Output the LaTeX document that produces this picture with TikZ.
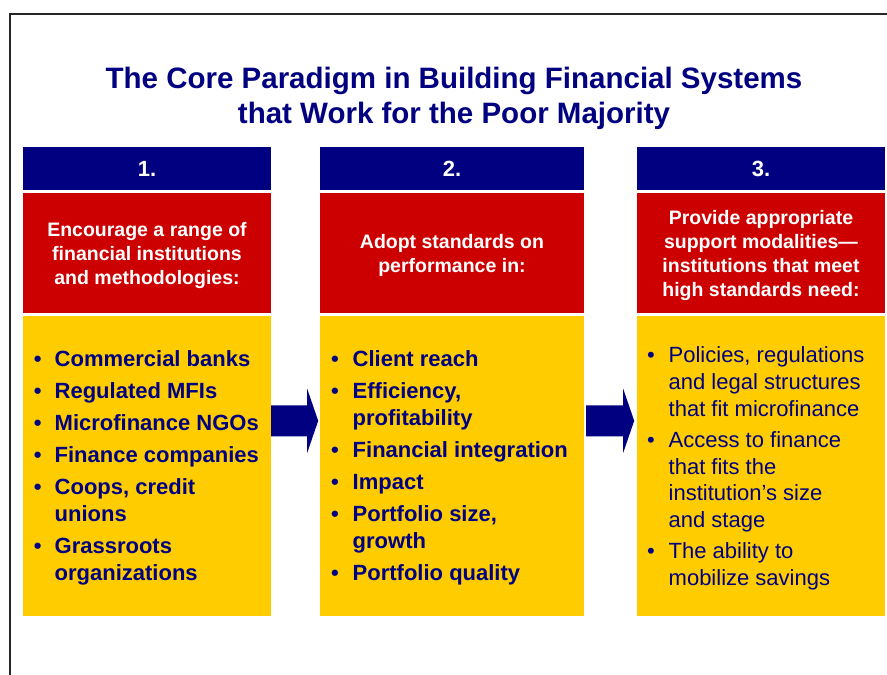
\documentclass[tikz,border=0pt]{standalone}
\usepackage{fontspec}
\setmainfont{Liberation Sans}
\usetikzlibrary{positioning}
\definecolor{navy}{RGB}{0,0,128}
\definecolor{brick}{RGB}{204,0,0}
\definecolor{gold}{RGB}{255,204,0}

\begin{document}
\begin{tikzpicture}[x=1pt,y=-1pt,
	numbox/.style={fill=navy, text=white, font=\fontsize{22}{26}\selectfont\bfseries,
		minimum height=43pt, inner sep=0pt},
	headbox/.style={fill=brick, text=white, font=\fontsize{19.5}{24}\selectfont\bfseries,
		align=center, minimum height=120pt, inner sep=0pt, text depth=0pt},
	listbox/.style={fill=gold, minimum height=300pt, inner sep=0pt},
	listtext/.style={text=navy, anchor=west, inner sep=0pt, align=left},
	flow/.style={fill=navy}]
	\useasboundingbox (0,0) rectangle (887,675);
	\draw[line width=1.6pt, black!85] (10,675) -- (10,14) -- (887,14);

	\node[text=navy, font=\fontsize{29.5}{35}\selectfont\bfseries, align=center] (title) at (454,98)
	{The Core Paradigm in Building Financial Systems\\that Work for the Poor Majority};

	% column 1
	\node[numbox, minimum width=248pt] (num1) at (147,168.5) {1.};
	\node[headbox, minimum width=248pt, below=3pt of num1] (head1)
	{Encourage a range of\\financial institutions\\and methodologies:};
	\node[listbox, minimum width=248pt, below=2pt of head1] (list1) {};
	\node[listtext, font=\fontsize{22}{27}\selectfont\bfseries] (items1) at ([xshift=11pt,yshift=-2pt]list1.west)
	{\begin{tabular}{@{}l@{\hspace{13pt}}l@{}}
		\textbullet & Commercial banks\\[5pt]
		\textbullet & Regulated MFIs\\[5pt]
		\textbullet & Microfinance NGOs\\[5pt]
		\textbullet & Finance companies\\[5pt]
		\textbullet & Coops, credit\\
		& unions\\[5pt]
		\textbullet & Grassroots\\
		& organizations
	\end{tabular}};

	% column 2
	\node[numbox, minimum width=264pt] (num2) at (452,168.5) {2.};
	\node[headbox, minimum width=264pt, below=3pt of num2] (head2)
	{Adopt standards on\\performance in:};
	\node[listbox, minimum width=264pt, below=2pt of head2] (list2) {};
	\node[listtext, font=\fontsize{22}{27}\selectfont\bfseries] (items2) at ([xshift=11pt,yshift=-2pt]list2.west)
	{\begin{tabular}{@{}l@{\hspace{14pt}}l@{}}
		\textbullet & Client reach\\[5pt]
		\textbullet & Efficiency,\\
		& profitability\\[5pt]
		\textbullet & Financial integration\\[5pt]
		\textbullet & Impact\\[5pt]
		\textbullet & Portfolio size,\\
		& growth\\[5pt]
		\textbullet & Portfolio quality
	\end{tabular}};

	% column 3
	\node[numbox, minimum width=248pt] (num3) at (761,168.5) {3.};
	\node[headbox, minimum width=248pt, below=3pt of num3] (head3)
	{Provide appropriate\\support modalities---\\institutions that meet\\high standards need:};
	\node[listbox, minimum width=248pt, below=2pt of head3] (list3) {};
	\node[listtext, font=\fontsize{22}{26.8}\selectfont] (items3) at ([xshift=10pt,yshift=-3pt]list3.west)
	{\begin{tabular}{@{}l@{\hspace{14pt}}l@{}}
		\textbullet & Policies, regulations\\
		& and legal structures\\
		& that fit microfinance\\[4pt]
		\textbullet & Access to finance\\
		& that fits the\\
		& institution’s size\\
		& and stage\\[4pt]
		\textbullet & The ability to\\
		& mobilize savings
	\end{tabular}};

	% arrows between the columns
	\coordinate (a1) at ([yshift=45pt]list1.east);
	\coordinate (a2) at ([xshift=2pt,yshift=45pt]list2.east);
	\fill[flow] (a1) ++(0,-15.5) -- ++(36,0) -- ++(0,-16.5) -- ++(11,32)
		-- ++(-11,32) -- ++(0,-16.5) -- ++(-36,0) -- cycle;
	\fill[flow] (a2) ++(0,-15.5) -- ++(37,0) -- ++(0,-16.5) -- ++(11,32)
		-- ++(-11,32) -- ++(0,-16.5) -- ++(-37,0) -- cycle;
\end{tikzpicture}
\end{document}
